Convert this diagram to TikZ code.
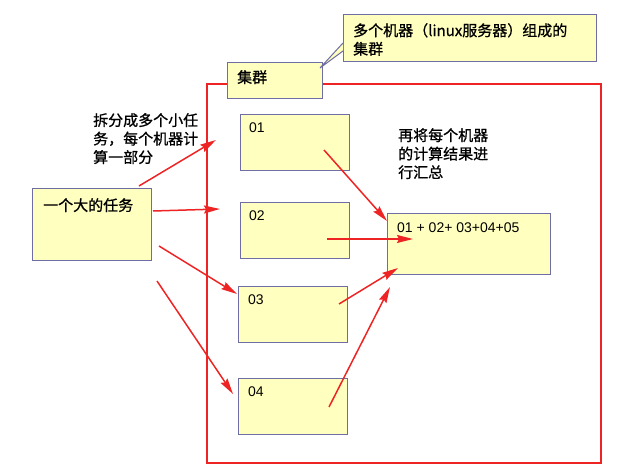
\documentclass[tikz,border=0pt]{standalone}
\usepackage{fontspec}
\setmainfont{Liberation Sans}
\newfontfamily\cjk{Noto Sans CJK SC}[FakeBold=0.9]
\usetikzlibrary{arrows.meta}

\definecolor{boxfill}{RGB}{255,255,192}
\definecolor{boxline}{RGB}{110,110,165}
\definecolor{redline}{RGB}{238,36,36}

\begin{document}
\begin{tikzpicture}[x=1pt,y=-1pt,>={Stealth[length=16pt,width=8pt,inset=2pt]},
    box/.style={draw=boxline,fill=boxfill,line width=1.1pt,anchor=north west,inner sep=0pt},
    txt/.style={anchor=north west,inner sep=0pt,align=left,font=\cjk\fontsize{15}{18.5}\selectfont},
    num/.style={anchor=north west,inner sep=0pt,font=\fontsize{14}{17}\selectfont},
    arr/.style={->,draw=redline,line width=1.5pt}]
    \useasboundingbox (0,0) rectangle (640,473);
    % cluster frame
    \draw [redline,line width=1.6pt] (207,84) rectangle (601,463);
    \node [box,minimum width=95pt,minimum height=36pt] (cluster) at (227,62) {};
    \node [txt] (clustertxt) at (237,70) {集群};
    % callout
    \node [box,minimum width=253pt,minimum height=47pt] (note) at (343,14) {};
    \coordinate (tip) at (320,68);
    \filldraw [fill=boxfill,draw=boxline,line width=1pt] (343,43) -- (tip) -- (343,51);
    \node [txt] (notetxt) at (353,23) {多个机器（linux服务器）组成的\\集群};
    % the big task
    \node [box,minimum width=119pt,minimum height=72pt] (task) at (32,188) {};
    \node [txt] (tasktxt) at (43,198) {一个大的任务};
    \node [txt] (splittxt) at (93,113) {拆分成多个小任\\务，每个机器计\\算一部分};
    % machines
    \node [box,minimum width=109pt,minimum height=56pt] (b01) at (240,114) {};
    \node [box,minimum width=109pt,minimum height=56pt] (b02) at (240,202) {};
    \node [box,minimum width=109pt,minimum height=56pt] (b03) at (238,286) {};
    \node [box,minimum width=109pt,minimum height=56pt] (b04) at (238,378) {};
    \node [num] (n01) at (249,123) {01};
    \node [num] (n02) at (249,211) {02};
    \node [num] (n03) at (248,295) {03};
    \node [num] (n04) at (248,387) {04};
    % result
    \node [box,minimum width=163pt,minimum height=61pt] (sum) at (387,213) {};
    \node [num] (sumtxt) at (397,223) {01 + 02+ 03+04+05};
    \node [txt] (mergetxt) at (398,128) {再将每个机器\\的计算结果进\\行汇总};
    % split arrows
    \coordinate (s1) at (139,186);
    \coordinate (s2) at (153,211);
    \coordinate (s3) at (159,246);
    \coordinate (s4) at (157,281);
    \coordinate (e1) at (216,140);
    \coordinate (e2) at (220,209);
    \coordinate (e3) at (237,294);
    \coordinate (e4) at (233,394);
    \draw [arr] (s1) -- (e1);
    \draw [arr] (s2) -- (e2);
    \draw [arr] (s3) -- (e3);
    \draw [arr] (s4) -- (e4);
    % merge arrows
    \coordinate (m1) at (324,150);
    \coordinate (m2) at (327,239);
    \coordinate (m3) at (339,304);
    \coordinate (m4) at (329,407);
    \coordinate (r1) at (387,221);
    \coordinate (r2) at (413,239);
    \coordinate (r3) at (398,268);
    \coordinate (r4) at (390,287);
    \draw [arr] (m1) -- (r1);
    \draw [arr] (m2) -- (r2);
    \draw [arr] (m3) -- (r3);
    \draw [arr] (m4) -- (r4);
\end{tikzpicture}
\end{document}
